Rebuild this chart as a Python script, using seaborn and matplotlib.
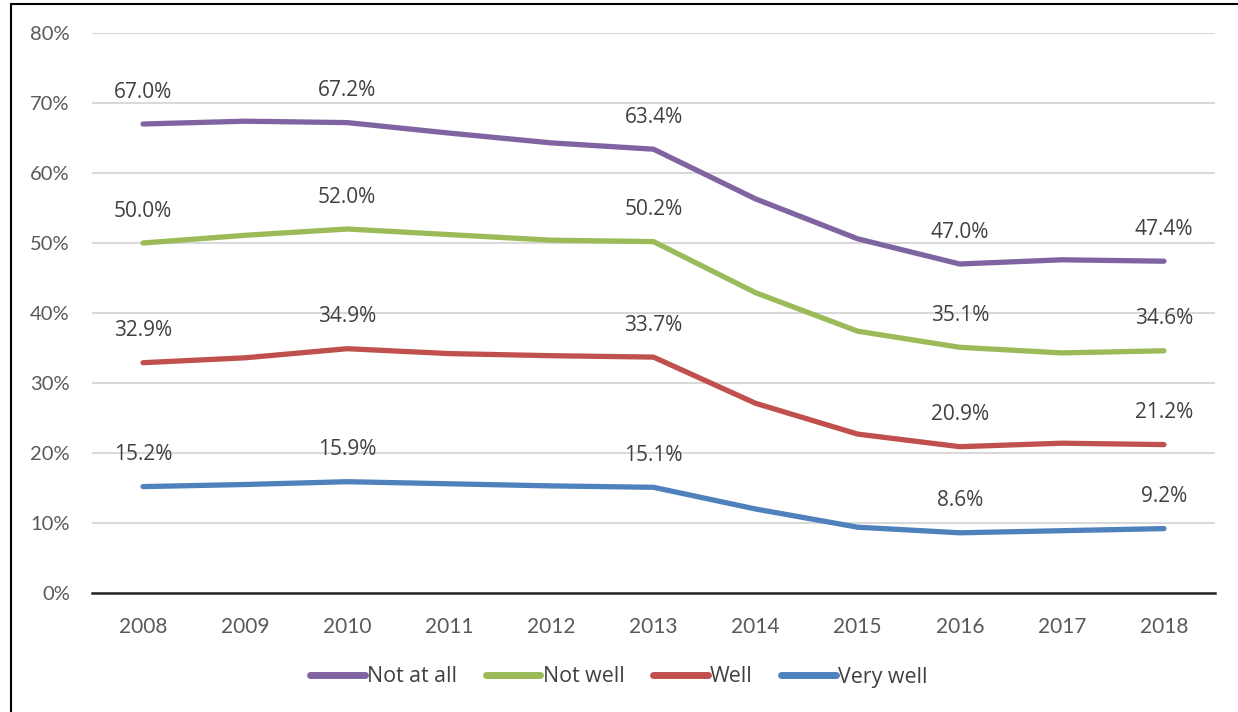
import matplotlib
matplotlib.use("Agg")
import matplotlib.pyplot as plt
from matplotlib.lines import Line2D
from matplotlib.ticker import FixedLocator, PercentFormatter
import pandas as pd
import seaborn as sns

years = [2008, 2009, 2010, 2011, 2012, 2013, 2014, 2015, 2016, 2017, 2018]
not_at_all = [67.0, 67.4, 67.2, 65.7, 64.3, 63.4, 56.3, 50.6, 47.0, 47.6, 47.4]
not_well = [50.0, 51.1, 52.0, 51.2, 50.4, 50.2, 42.9, 37.4, 35.1, 34.3, 34.6]
well = [32.9, 33.6, 34.9, 34.2, 33.9, 33.7, 27.1, 22.7, 20.9, 21.4, 21.2]
very_well = [15.2, 15.5, 15.9, 15.6, 15.3, 15.1, 12.0, 9.4, 8.6, 8.9, 9.2]

series_names = ["Not at all", "Not well", "Well", "Very well"]
series_values = [not_at_all, not_well, well, very_well]
colors = ["#8064A2", "#9BBB59", "#C0504D", "#4F81BD"]
labelled_years = [2008, 2010, 2013, 2016, 2018]

rows = []
for name, vals in zip(series_names, series_values):
    for yr, v in zip(years, vals):
        rows.append({"year": yr, "value": v, "series": name})
df = pd.DataFrame(rows)

sns.set_theme(style="white")
plt.rcParams["font.family"] = ["Open Sans", "DejaVu Sans"]

fig = plt.figure(figsize=(12.38, 7.12), dpi=100)
ax = fig.add_axes([92 / 1238, (712 - 593) / 712, (1215 - 92) / 1238, (593 - 33) / 712])

sns.lineplot(data=df, x="year", y="value", hue="series", hue_order=series_names,
             palette=colors, linewidth=3.8, ax=ax, legend=False,
             solid_capstyle="round")

# data labels above selected points
for name, vals, c in zip(series_names, series_values, colors):
    for yr, v in zip(years, vals):
        if yr in labelled_years:
            ax.annotate(f"{v:.1f}%", (yr, v), xytext=(0, 23), textcoords="offset points",
                        ha="center", va="center", fontsize=15, color="#404040")

ax.set_xlim(2007.5, 2018.5)
ax.set_ylim(0, 80)
ax.set_yticks(range(0, 81, 10))
ax.yaxis.set_major_formatter(PercentFormatter(decimals=0))
ax.set_xticks(years)
ax.xaxis.set_minor_locator(FixedLocator([y - 0.5 for y in years] + [2018.5]))
ax.tick_params(axis="x", which="major", length=0, pad=17, labelsize=15, labelcolor="#595959")
ax.tick_params(axis="x", which="minor", length=7, width=1.5, direction="out", color="#262626")
ax.tick_params(axis="y", length=0, pad=16, labelsize=14.5, labelcolor="#595959")
for lab in ax.get_xticklabels() + ax.get_yticklabels():
    lab.set_family(["Lato", "DejaVu Sans"])
ax.set_xlabel("")
ax.set_ylabel("")

ax.grid(axis="y", color="#D9D9D9", linewidth=1.5)
ax.set_axisbelow(True)
for side in ["top", "right", "left"]:
    ax.spines[side].set_visible(False)
ax.spines["bottom"].set_color("#262626")
ax.spines["bottom"].set_linewidth(1.8)
ax.spines["bottom"].set_zorder(3)

handles = [Line2D([0], [0], color=c, linewidth=5, solid_capstyle="round") for c in colors]
fig.legend(handles, series_names, loc="center", bbox_to_anchor=(0.5, 1 - 677 / 712),
           ncol=4, frameon=False, fontsize=15.4, handlelength=2.55, handletextpad=0.1,
           columnspacing=1.35, labelcolor="#404040")

# outer frame (top and left edges)
fig.add_artist(Line2D([11 / 1238, 1], [1 - 4 / 712, 1 - 4 / 712], color="black", linewidth=1.5,
                      transform=fig.transFigure))
fig.add_artist(Line2D([11 / 1238, 11 / 1238], [0, 1 - 4 / 712], color="black", linewidth=1.5,
                      transform=fig.transFigure))

fig.savefig("out.png", dpi=100)
plt.close(fig)
